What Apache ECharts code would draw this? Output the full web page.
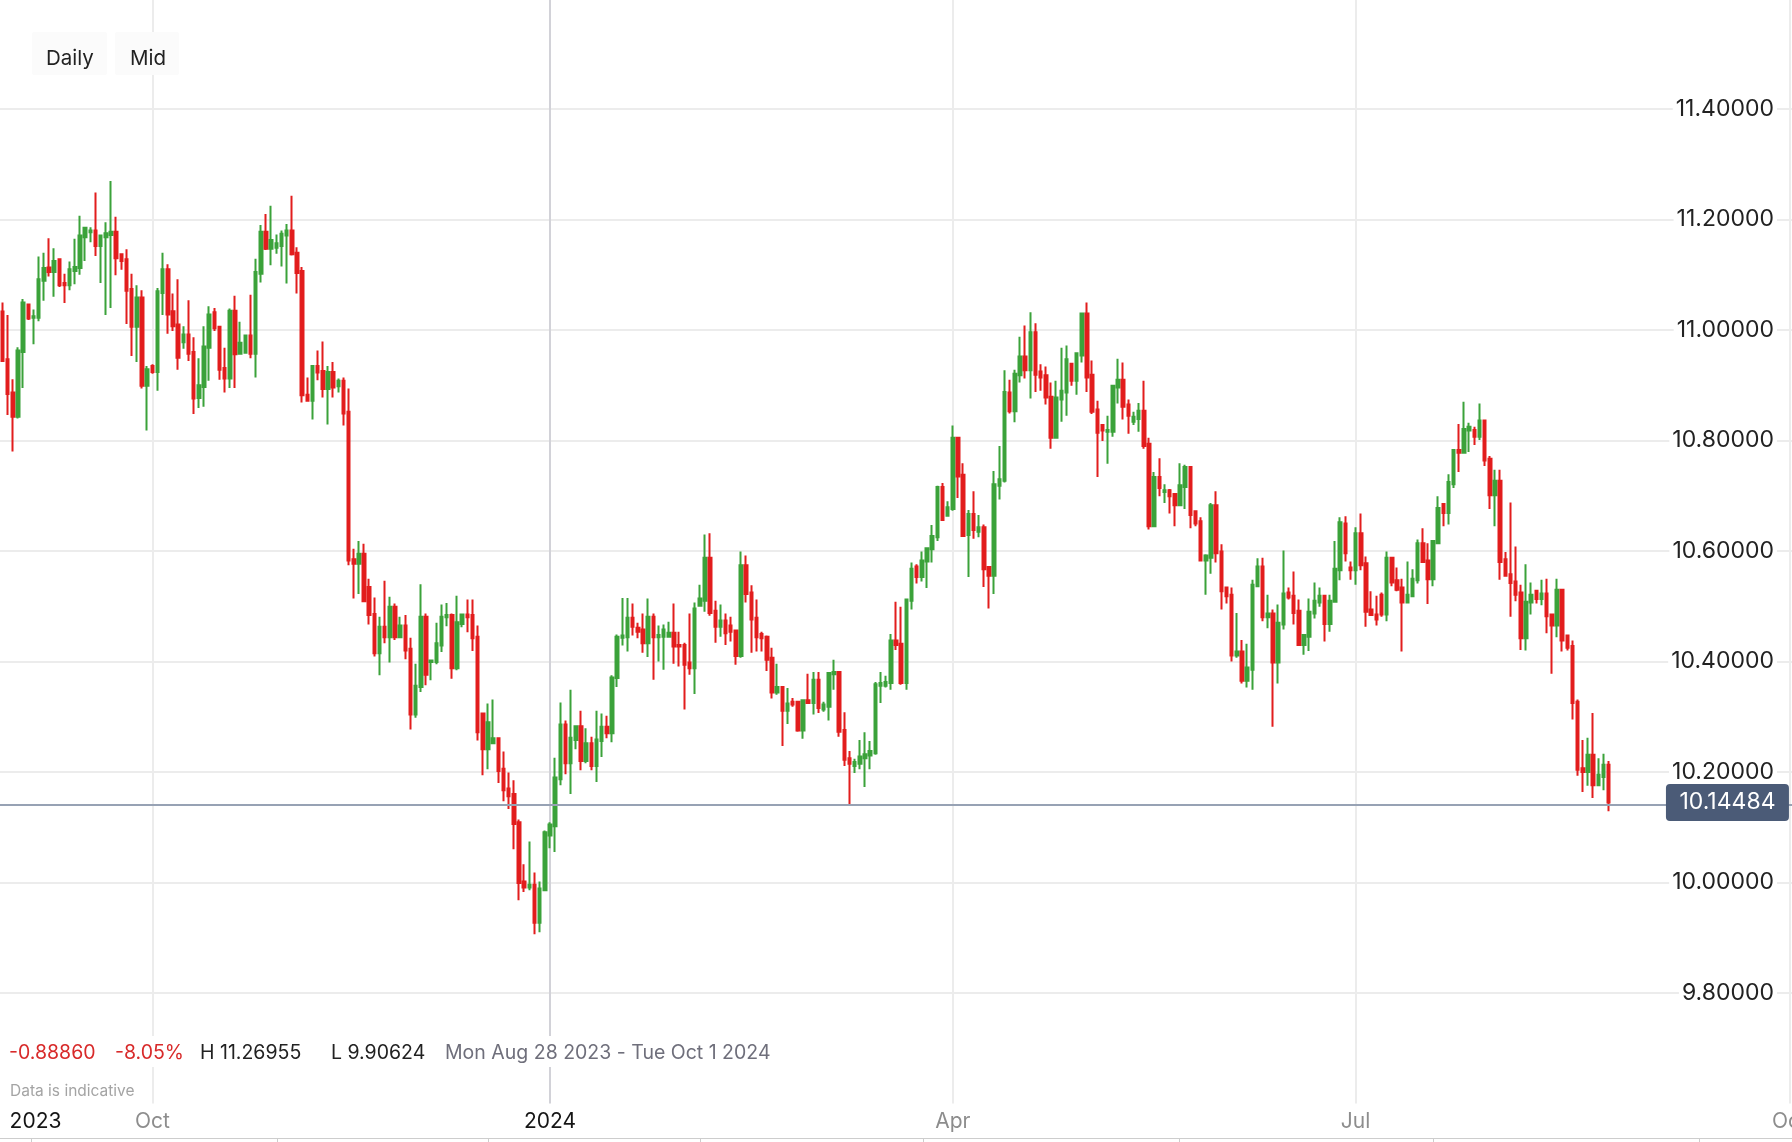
<!DOCTYPE html>
<html>
<head>
<meta charset="utf-8">
<script src="https://cdn.jsdelivr.net/npm/echarts@6/dist/echarts.min.js"></script>
<style>
html,body{margin:0;padding:0;background:#fff;}
#chart{width:1792px;height:1142px;}
</style>
</head>
<body>
<div id="chart"></div>
<script>
// ---- OHLC values (one candle per session, Aug 28 2023 onward) ----
const opens = [
11.03344,10.947,10.887,10.843,10.960,11.046,11.022,11.022,11.089,11.113,
11.105,11.128,11.085,11.081,11.107,11.112,11.168,11.177,11.180,11.152,
11.168,11.172,11.178,11.137,11.128,11.074,11.006,11.059,10.899,10.935,
10.924,11.067,11.110,11.034,11.010,10.978,10.992,10.960,10.877,10.897,
10.968,11.032,11.006,10.931,10.912,11.035,10.957,10.959,10.990,10.957,
11.102,11.178,11.147,11.149,11.152,11.171,11.180,11.140,11.107,10.883,
10.872,10.935,10.926,10.893,10.924,10.898,10.908,10.852,10.585,10.577,
10.595,10.535,10.486,10.415,10.463,10.444,10.499,10.444,10.465,10.423,
10.304,10.354,10.481,10.399,10.399,10.429,10.480,10.484,10.388,10.468,
10.485,10.484,10.445,10.306,10.241,10.252,10.261,10.206,10.170,10.160,
10.109,10.002,9.991,9.996,9.927,9.986,10.085,10.102,10.187,10.286,
10.216,10.258,10.283,10.220,10.252,10.211,10.256,10.282,10.270,10.370,
10.443,10.444,10.479,10.461,10.458,10.433,10.481,10.444,10.445,10.445,
10.452,10.430,10.430,10.398,10.388,10.501,10.510,10.588,10.492,10.463,
10.474,10.465,10.456,10.410,10.574,10.525,10.479,10.450,10.445,10.407,
10.344,10.354,10.311,10.327,10.327,10.275,10.330,10.325,10.367,10.313,
10.318,10.377,10.381,10.276,10.225,10.211,10.215,10.225,10.230,10.234,
10.356,10.356,10.361,10.438,10.432,10.361,10.510,10.572,10.553,10.581,
10.603,10.625,10.716,10.664,10.676,10.805,10.738,10.629,10.667,10.635,
10.643,10.571,10.555,10.718,10.727,10.887,10.853,10.918,10.952,10.927,
10.996,10.925,10.918,10.879,10.805,10.874,10.887,10.939,10.908,10.954,
11.030,10.919,10.856,10.828,10.816,10.816,10.896,10.910,10.865,10.834,
10.839,10.854,10.794,10.645,10.734,10.707,10.710,10.703,10.683,10.716,
10.752,10.672,10.654,10.583,10.588,10.683,10.599,10.534,10.521,10.411,
10.418,10.365,10.385,10.536,10.572,10.480,10.487,10.398,10.467,10.525,
10.519,10.492,10.430,10.445,10.487,10.507,10.519,10.468,10.508,10.565,
10.650,10.570,10.565,10.632,10.578,10.494,10.485,10.521,10.485,10.588,
10.547,10.534,10.507,10.518,10.547,10.614,10.583,10.549,10.614,10.685,
10.669,10.721,10.783,10.778,10.818,10.819,10.807,10.836,10.767,10.701,
10.727,10.585,10.558,10.545,10.525,10.442,10.507,10.528,10.513,10.523,
10.485,10.465,10.530,10.447,10.428,10.327,10.207,10.200,10.231,10.176,
10.191,10.213
];
const closes = [
10.944,10.884,10.843,10.963,11.050,11.021,11.025,11.092,11.112,11.105,
11.125,11.081,11.081,11.110,11.114,11.171,11.185,11.180,11.152,11.171,
11.175,11.178,11.130,11.125,11.071,11.006,11.059,10.899,10.929,10.924,
11.070,11.110,11.028,11.007,10.950,10.992,10.957,10.876,10.900,10.970,
11.028,11.003,10.928,10.912,11.035,10.956,10.977,10.990,10.957,11.105,
11.178,11.147,11.163,11.157,11.174,11.180,11.137,11.103,10.882,10.872,
10.935,10.923,10.893,10.924,10.896,10.908,10.849,10.583,10.577,10.595,
10.509,10.484,10.415,10.463,10.444,10.499,10.444,10.465,10.420,10.304,
10.356,10.481,10.376,10.402,10.433,10.481,10.484,10.388,10.471,10.485,
10.480,10.442,10.272,10.241,10.290,10.261,10.202,10.167,10.156,10.106,
9.999,9.991,9.996,9.927,9.989,10.091,10.105,10.190,10.286,10.216,
10.262,10.283,10.220,10.252,10.211,10.259,10.282,10.270,10.371,10.445,
10.447,10.479,10.463,10.454,10.433,10.481,10.444,10.448,10.458,10.452,
10.427,10.427,10.394,10.388,10.496,10.514,10.588,10.488,10.463,10.474,
10.451,10.454,10.410,10.574,10.522,10.476,10.444,10.442,10.403,10.344,
10.354,10.311,10.324,10.322,10.275,10.330,10.325,10.367,10.316,10.322,
10.379,10.381,10.273,10.222,10.215,10.218,10.228,10.232,10.238,10.359,
10.361,10.363,10.438,10.430,10.361,10.512,10.568,10.553,10.583,10.605,
10.627,10.716,10.656,10.679,10.805,10.735,10.627,10.667,10.638,10.643,
10.567,10.555,10.721,10.730,10.888,10.853,10.921,10.952,10.927,10.996,
10.919,10.914,10.878,10.805,10.878,10.890,10.947,10.908,10.958,11.030,
10.914,10.852,10.814,10.818,10.819,10.899,10.910,10.861,10.845,10.843,
10.854,10.790,10.645,10.734,10.714,10.710,10.699,10.683,10.719,10.752,
10.665,10.650,10.583,10.592,10.683,10.596,10.527,10.518,10.411,10.418,
10.365,10.389,10.539,10.572,10.480,10.487,10.398,10.470,10.523,10.516,
10.488,10.430,10.448,10.490,10.510,10.519,10.468,10.510,10.568,10.652,
10.596,10.565,10.632,10.574,10.490,10.484,10.476,10.485,10.588,10.543,
10.530,10.507,10.521,10.550,10.614,10.580,10.549,10.618,10.678,10.669,
10.725,10.783,10.778,10.821,10.825,10.807,10.836,10.764,10.701,10.727,
10.580,10.555,10.542,10.521,10.442,10.508,10.521,10.513,10.523,10.482,
10.465,10.530,10.438,10.425,10.325,10.204,10.200,10.231,10.176,10.195,
10.213,10.14484
];
const lows = [
10.942,10.846,10.780,10.840,10.895,11.018,10.974,11.016,11.053,11.097,
11.060,11.078,11.049,11.072,11.083,11.100,11.125,11.159,11.134,11.085,
11.027,11.040,11.099,11.109,11.011,10.953,10.942,10.894,10.818,10.921,
10.890,11.027,10.993,10.998,10.928,10.966,10.944,10.848,10.859,10.861,
10.908,10.998,10.910,10.887,10.895,10.895,10.955,10.957,10.949,10.914,
11.086,11.145,11.117,11.138,11.115,11.084,11.135,11.066,10.869,10.872,
10.838,10.909,10.878,10.829,10.878,10.887,10.827,10.574,10.514,10.522,
10.509,10.467,10.409,10.375,10.433,10.398,10.439,10.442,10.404,10.277,
10.298,10.345,10.357,10.366,10.395,10.417,10.464,10.369,10.384,10.462,
10.453,10.419,10.257,10.194,10.205,10.252,10.180,10.147,10.133,10.060,
9.968,9.983,9.986,9.90624,9.910,9.986,10.062,10.055,10.176,10.196,
10.160,10.241,10.203,10.216,10.203,10.182,10.227,10.261,10.254,10.354,
10.429,10.418,10.447,10.442,10.416,10.408,10.367,10.400,10.385,10.444,
10.396,10.391,10.313,10.376,10.341,10.501,10.490,10.483,10.434,10.445,
10.430,10.436,10.394,10.407,10.507,10.416,10.418,10.418,10.383,10.333,
10.340,10.247,10.287,10.318,10.273,10.260,10.324,10.304,10.307,10.309,
10.293,10.349,10.264,10.211,10.142,10.198,10.205,10.173,10.205,10.231,
10.325,10.353,10.349,10.421,10.358,10.349,10.494,10.541,10.545,10.533,
10.579,10.618,10.656,10.664,10.673,10.696,10.627,10.553,10.622,10.625,
10.535,10.496,10.522,10.693,10.724,10.849,10.833,10.905,10.912,10.876,
10.888,10.890,10.865,10.785,10.805,10.834,10.845,10.899,10.883,10.941,
10.888,10.848,10.734,10.799,10.758,10.807,10.867,10.838,10.812,10.828,
10.816,10.785,10.639,10.645,10.699,10.687,10.668,10.645,10.681,10.676,
10.641,10.645,10.583,10.521,10.559,10.579,10.494,10.505,10.400,10.407,
10.360,10.353,10.349,10.536,10.473,10.460,10.282,10.360,10.458,10.512,
10.467,10.430,10.412,10.419,10.478,10.499,10.436,10.454,10.508,10.547,
10.581,10.548,10.539,10.565,10.463,10.484,10.465,10.481,10.473,10.536,
10.527,10.418,10.507,10.518,10.541,10.580,10.504,10.536,10.614,10.645,
10.648,10.714,10.743,10.778,10.779,10.792,10.801,10.754,10.676,10.645,
10.548,10.555,10.481,10.509,10.421,10.420,10.485,10.505,10.502,10.451,
10.378,10.444,10.418,10.420,10.295,10.193,10.164,10.175,10.153,10.175,
10.167,10.129
];
const highs = [
11.050,11.027,10.911,10.969,11.056,11.046,11.037,11.133,11.140,11.166,
11.148,11.128,11.102,11.124,11.165,11.207,11.187,11.186,11.249,11.171,
11.195,11.26955,11.205,11.137,11.146,11.102,11.081,11.072,10.935,10.938,
11.076,11.140,11.119,11.066,11.092,11.007,11.054,10.987,10.949,11.007,
11.043,11.040,11.006,10.968,11.039,11.062,11.015,10.990,11.064,11.129,
11.190,11.210,11.225,11.173,11.180,11.192,11.243,11.150,11.114,10.914,
10.935,10.963,10.979,10.935,10.942,10.912,10.914,10.894,10.604,10.618,
10.613,10.550,10.516,10.481,10.546,10.517,10.505,10.481,10.484,10.443,
10.396,10.540,10.487,10.402,10.470,10.503,10.506,10.487,10.519,10.487,
10.512,10.512,10.465,10.306,10.324,10.331,10.263,10.237,10.199,10.185,
10.114,10.033,10.074,10.018,10.002,10.094,10.109,10.226,10.326,10.293,
10.349,10.284,10.311,10.279,10.264,10.311,10.306,10.302,10.375,10.449,
10.515,10.515,10.505,10.470,10.487,10.514,10.487,10.465,10.467,10.472,
10.505,10.454,10.434,10.487,10.507,10.539,10.630,10.632,10.510,10.503,
10.487,10.481,10.456,10.599,10.592,10.538,10.512,10.454,10.447,10.425,
10.396,10.354,10.352,10.334,10.327,10.330,10.378,10.381,10.381,10.327,
10.379,10.403,10.383,10.308,10.238,10.224,10.258,10.272,10.256,10.363,
10.381,10.374,10.450,10.508,10.499,10.514,10.579,10.576,10.599,10.607,
10.647,10.718,10.723,10.690,10.827,10.807,10.759,10.674,10.708,10.665,
10.648,10.572,10.745,10.790,10.927,10.910,10.928,10.988,11.008,11.032,
11.012,10.938,10.934,10.905,10.908,10.968,10.972,10.939,10.959,11.030,
11.050,10.945,10.872,10.830,10.845,10.899,10.948,10.941,10.874,10.852,
10.868,10.908,10.805,10.743,10.768,10.721,10.712,10.705,10.759,10.756,
10.752,10.672,10.661,10.594,10.687,10.708,10.612,10.534,10.534,10.488,
10.439,10.432,10.548,10.587,10.588,10.521,10.494,10.503,10.601,10.534,
10.563,10.512,10.450,10.514,10.543,10.534,10.521,10.521,10.618,10.661,
10.663,10.581,10.643,10.668,10.590,10.527,10.519,10.525,10.599,10.588,
10.570,10.550,10.581,10.567,10.621,10.641,10.614,10.618,10.699,10.685,
10.739,10.783,10.830,10.870,10.832,10.825,10.867,10.838,10.772,10.747,
10.747,10.598,10.688,10.608,10.539,10.576,10.543,10.528,10.548,10.550,
10.485,10.550,10.530,10.447,10.438,10.331,10.258,10.262,10.307,10.225,
10.233,10.220
];

// ---- calendar of the category axis ----
const firstSession = '2023-08-28';
const noSessionDays = ['2023-12-24', '2023-12-31'];
const axisEndDay = '2024-10-01';
const monthNames = ['Jan','Feb','Mar','Apr','May','Jun','Jul','Aug','Sep','Oct','Nov','Dec'];
const dayNames = ['Sun','Mon','Tue','Wed','Thu','Fri','Sat'];
const yTickValues = [9.8, 10.0, 10.2, 10.4, 10.6, 10.8, 11.0, 11.2, 11.4];

const GREEN = '#3ba23a';
const RED = '#e21d1d';
const FONT = 'Inter, "Noto Sans", Roboto, sans-serif';

function isoDay(d) { return d.toISOString().slice(0, 10); }
const dates = [];
(function () {
  const p = firstSession.split('-').map(Number);
  const d = new Date(Date.UTC(p[0], p[1] - 1, p[2]));
  while (dates.length < opens.length) {
    const s = isoDay(d);
    if (d.getUTCDay() !== 6 && noSessionDays.indexOf(s) < 0) dates.push(s);
    d.setUTCDate(d.getUTCDate() + 1);
  }
  while (isoDay(d) <= axisEndDay) { dates.push(isoDay(d)); d.setUTCDate(d.getUTCDate() + 1); }
})();

const labelAt = {};
dates.forEach(function (s, i) {
  const m = +s.slice(5, 7) - 1;
  if (i === 0) { labelAt[i] = '{first|' + s.slice(0, 4) + '}'; return; }
  if (s.slice(0, 7) !== dates[i - 1].slice(0, 7) && m % 3 === 0) {
    labelAt[i] = m === 0 ? '{yr|' + s.slice(0, 4) + '}' : '{mo|' + monthNames[m] + '}';
  }
});

const candles = opens.map(function (o, i) { return [o, closes[i], lows[i], highs[i]]; });
const lastClose = closes[closes.length - 1];
const change = lastClose - opens[0];
const changePct = change / opens[0] * 100;
const hi = Math.max.apply(null, highs);
const lo = Math.min.apply(null, lows);
function longDay(s) {
  const p = s.split('-').map(Number);
  const d = new Date(Date.UTC(p[0], p[1] - 1, p[2]));
  return dayNames[d.getUTCDay()] + ' ' + monthNames[p[1] - 1] + ' ' + p[2] + ' ' + p[0];
}
const rangeText = longDay(dates[0]) + ' - ' + longDay(axisEndDay);

const chart = echarts.init(document.getElementById('chart'), null, { renderer: 'canvas' });
const option = {
  animation: false,
  backgroundColor: '#ffffff',
  grid: { left: 0, right: 0, top: -1.5, height: 1105, outerBoundsMode: 'none', containLabel: false },
  xAxis: {
    type: 'category',
    data: dates,
    boundaryGap: true,
    axisLine: { show: false },
    axisTick: { show: false },
    axisLabel: {
      interval: function (i) { return labelAt[i] !== undefined; },
      formatter: function (v, i) { return labelAt[i] || ''; },
      margin: 8,
      alignMinLabel: 'left',
      rich: {
        first: { fontFamily: FONT, fontSize: 21, color: '#151515', padding: [0, 0, 0, 7] },
        yr: { fontFamily: FONT, fontSize: 21, color: '#151515' },
        mo: { fontFamily: FONT, fontSize: 21, color: '#8d8d8d' }
      }
    },
    splitLine: {
      show: true,
      alignWithLabel: true,
      interval: function (i) { return i !== 0 && labelAt[i] !== undefined; },
      lineStyle: { color: ['#ececec', '#d2d2d8', '#ececec', '#ececec', '#ececec'], width: 2 }
    }
  },
  yAxis: {
    type: 'value',
    position: 'right',
    min: 9.6,
    max: 11.6,
    interval: 0.2,
    axisLine: { show: false },
    axisTick: { show: false },
    splitLine: { show: true, showMinLine: false, showMaxLine: false, lineStyle: { color: '#ececec', width: 2 } },
    axisLabel: {
      inside: true,
      margin: 15,
      showMinLabel: false,
      showMaxLabel: false,
      formatter: function (v) {
        const hit = yTickValues.some(function (t) { return Math.abs(t - v) < 1e-6; });
        return hit ? v.toFixed(5) : '';
      },
      color: '#222222',
      fontFamily: FONT,
      fontSize: 23,
      backgroundColor: '#ffffff',
      padding: [1, 3]
    }
  },
  series: [{
    type: 'candlestick',
    data: candles,
    barWidth: 3,
    z: 3,
    itemStyle: { color: GREEN, color0: RED, borderColor: GREEN, borderColor0: RED, borderWidth: 2 },
    markLine: {
      silent: true,
      symbol: ['none', 'none'],
      label: { show: false },
      lineStyle: { color: '#97a2b4', width: 2, type: 'solid' },
      data: [{ yAxis: lastClose }]
    },
    markPoint: {
      silent: true,
      z: 20,
      symbol: 'rect',
      symbolSize: [0, 0],
      label: {
        show: true, position: 'inside', color: '#ffffff', fontFamily: FONT, fontSize: 23,
        backgroundColor: '#4b5b77', borderRadius: 4,
        width: 103, height: 25, lineHeight: 25, padding: [6, 10, 6, 10],
        align: 'center', verticalAlign: 'middle',
        formatter: function () { return lastClose.toFixed(5); }
      },
      data: [{ coord: [334, lastClose] }]
    }
  }],
  graphic: [
    { type: 'rect', z: 100, shape: { x: 32, y: 32, width: 75, height: 43, r: 2 }, style: { fill: '#fbfbfb' } },
    { type: 'rect', z: 100, shape: { x: 115, y: 32, width: 64, height: 43, r: 2 }, style: { fill: '#fbfbfb' } },
    { type: 'text', z: 101, x: 46, y: 59, style: { text: 'Daily', fontFamily: FONT, fontSize: 20.5, fill: '#222222', verticalAlign: 'middle' } },
    { type: 'text', z: 101, x: 130, y: 59, style: { text: 'Mid', fontFamily: FONT, fontSize: 20.5, fill: '#222222', verticalAlign: 'middle' } },

    { type: 'rect', z: 100, shape: { x: 0, y: 1036, width: 790, height: 31 }, style: { fill: '#ffffff' } },
    { type: 'text', z: 101, x: 9, y: 1053, style: { text: change.toFixed(5), fontFamily: FONT, fontSize: 19.5, fill: '#d82a2a', verticalAlign: 'middle' } },
    { type: 'text', z: 101, x: 115, y: 1053, style: { text: changePct.toFixed(2) + '%', fontFamily: FONT, fontSize: 19.5, fill: '#d82a2a', verticalAlign: 'middle' } },
    { type: 'text', z: 101, x: 200, y: 1053, style: { text: 'H ' + hi.toFixed(5), fontFamily: FONT, fontSize: 19.5, fill: '#222222', verticalAlign: 'middle' } },
    { type: 'text', z: 101, x: 331, y: 1053, style: { text: 'L ' + lo.toFixed(5), fontFamily: FONT, fontSize: 19.5, fill: '#222222', verticalAlign: 'middle' } },
    { type: 'text', z: 101, x: 445, y: 1053, style: { text: rangeText, fontFamily: FONT, fontSize: 19.5, fill: '#6f6f7b', verticalAlign: 'middle' } },
    { type: 'text', z: 101, x: 10, y: 1091, style: { text: 'Data is indicative', fontFamily: FONT, fontSize: 15.5, fill: '#a4a4a4', verticalAlign: 'middle' } },

    { type: 'line', z: 100, shape: { x1: 0, y1: 1138.5, x2: 1792, y2: 1138.5 }, style: { stroke: '#cdcdcd', lineWidth: 1 } },
    { type: 'group', z: 100, children: [31, 277, 488, 700, 923, 1179, 1433, 1699].map(function (x) {
        return { type: 'line', shape: { x1: x + 0.5, y1: 1138, x2: x + 0.5, y2: 1142 }, style: { stroke: '#cdcdcd', lineWidth: 1 } };
      }) }
  ]
};
chart.setOption(option);
</script>
</body>
</html>
